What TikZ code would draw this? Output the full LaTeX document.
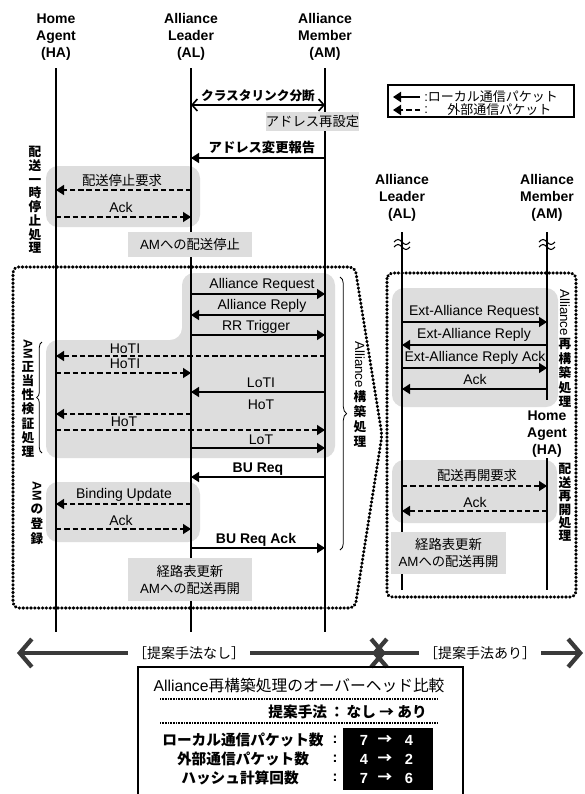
\documentclass[tikz,border=0pt]{standalone}
\usepackage{fontspec}
\setmainfont{Liberation Sans}
\newfontfamily\jp{Noto Sans CJK JP}
\usepackage{graphicx}
\usetikzlibrary{arrows.meta,decorations.pathreplacing}
\definecolor{boxgray}{RGB}{221,221,221}
\definecolor{arrowgray}{RGB}{58,58,58}
\tikzset{
  life/.style={line width=1pt},
  msg/.style={line width=1.1pt,-{Triangle[length=6pt,width=7.5pt]}},
  dmsg/.style={msg,dash pattern=on 4pt off 2.2pt},
  lbl/.style={inner sep=0pt,font=\fontsize{10.5}{12}\selectfont},
  blbl/.style={inner sep=0pt,font=\bfseries\fontsize{10.5}{12}\selectfont},
  jlbl/.style={inner sep=0pt,font=\jp\fontsize{10}{12}\selectfont},
  bjlbl/.style={inner sep=0pt,font=\jp\bfseries\fontsize{10}{12}\selectfont},
  grp/.style={fill=boxgray,rounded corners=9pt},
  note/.style={fill=boxgray,inner sep=0pt,align=center,font=\fontsize{10}{12.75}\selectfont},
  dotbox/.style={line width=2.3pt,dash pattern=on 0.4pt off 2.5pt,line cap=round,rounded corners=4pt},
  hdr/.style={align=center,font=\bfseries\fontsize{10.5}{13}\selectfont,inner sep=0pt},
  vtxt/.style={align=center,inner sep=0pt,anchor=north},
  vrot/.style={rotate=-90,anchor=west,inner sep=0pt},
  bigarrow/.style={line width=3.2pt,draw=arrowgray,{Straight Barb[length=9pt,width=21pt]}-{Straight Barb[length=9pt,width=21pt]}},
  tdot/.style={line width=1.3pt,dash pattern=on 0.6pt off 0.6pt},
}
\newcommand{\vfont}[1]{\jp\bfseries\fontsize{9.5}{#1}\selectfont\lineskiplimit=-20pt\lineskip=0pt}
\begin{document}
\begin{tikzpicture}[x=0.75pt,y=-0.75pt]
\useasboundingbox (0,0) rectangle (585,794);
\clip (0,0) rectangle (585,794);
\fill[white] (0,0) rectangle (585,794);

% lifeline anchors
\coordinate (HA) at (56,68);
\coordinate (AL) at (191,68);
\coordinate (AM) at (325,68);
\coordinate (AL2) at (402,232);
\coordinate (AM2) at (547,232);
\coordinate (HA2) at (547,458);

% headers
\node[hdr] (hHA) at (56,37) {Home\\Agent\\(HA)};
\node[hdr] (hAL) at (191,37) {Alliance\\Leader\\(AL)};
\node[hdr] (hAM) at (325,37) {Alliance\\Member\\(AM)};
\node[hdr] (hAL2) at (402,198) {Alliance\\Leader\\(AL)};
\node[hdr] (hAM2) at (547,198) {Alliance\\Member\\(AM)};
\node[hdr] (hHA2) at (547,434) {Home\\Agent\\(HA)};

% group boxes (behind lifelines)
\path[grp] (46,166) rectangle (200,227);
\path[grp] (182,273) -- (335,273) -- (335,458) -- (46,458) -- (46,340) -- (182,340) -- cycle;
\path[grp] (46,482) rectangle (200,542);
\path[grp] (392,288) rectangle (558,407);
\path[grp] (392,460) rectangle (557,523);

% lifelines
\draw[life] (HA) -- (HA |- 0,632);
\draw[life] (AL) -- (AL |- 0,632);
\draw[life] (AM) -- (AM |- 0,632);
\draw[life] (AL2) -- (AL2 |- 0,590);
\draw[life] (AM2) -- (AM2 |- 0,400);
\draw[life] (HA2) -- (HA2 |- 0,590);
% break marks
\foreach \xx in {402,547}{
  \draw[line width=0.8pt] (\xx-8,242) sin (\xx-4,239.5) cos (\xx,242) sin (\xx+4,244.5) cos (\xx+8,242);
  \draw[line width=0.8pt] (\xx-8,247) sin (\xx-4,244.5) cos (\xx,247) sin (\xx+4,249.5) cos (\xx+8,247);
}

% dotted frames
\draw[dotbox] (13,267) -- (355,267) -- (382,435) -- (355,608) -- (13,608) -- cycle;
\draw[dotbox] (387,273) rectangle (576,597);

% note boxes (cover lifelines)
\node[note,minimum width=56.25pt,minimum height=14.25pt] (reset) at (312.5,121.5) {\jp アドレス再設定};
\node[note,minimum width=93pt,minimum height=18.75pt] (stop) at (190,244.5) {AM{\jp への配送停止}};
\node[note,minimum width=93pt,minimum height=32.25pt] (resume) at (190,579.5) {{\jp 経路表更新}\\AM{\jp への配送再開}};
\node[note,minimum width=86.25pt,minimum height=31.5pt] (resume2) at (448.5,553) {{\jp 経路表更新}\\AM{\jp への配送再開}};

% legend
\draw[line width=0.8pt] (388,85) rectangle (574,117);
\coordinate (lg1a) at (420,97); \coordinate (lg1b) at (393,97);
\coordinate (lg2a) at (420,110); \coordinate (lg2b) at (393,110);
\draw[msg,line width=1.6pt] (lg1a) -- (lg1b);
\draw[dmsg,line width=1.6pt] (lg2a) -- (lg2b);
\node[anchor=west,inner sep=0pt,font=\fontsize{9.75}{11}\selectfont] (lgt1) at (424,97) {:{\jp ローカル通信パケット}};
\node[anchor=west,inner sep=0pt,font=\fontsize{9.75}{11}\selectfont] (lgt2) at (424,110) {:};
\node[anchor=west,inner sep=0pt,font=\jp\fontsize{9.75}{11}\selectfont] (lgt3) at (447,110) {外部通信パケット};

% top messages
\draw[line width=1.2pt,{Straight Barb[length=4pt,width=9pt]}-{Straight Barb[length=4pt,width=9pt]}] (AL |- 0,105) -- (AM |- 0,105);
\node[bjlbl,font=\jp\bfseries\fontsize{9.5}{11}\selectfont] (l1) at (258,96) {クラスタリンク分断};
\draw[msg] (AM |- 0,158) -- (AL |- 0,158);
\node[bjlbl] (l2) at (262,147) {アドレス変更報告};
\draw[dmsg] (AL |- 0,190) -- (HA |- 0,190);
\node[jlbl] (l3) at (122,180) {配送停止要求};
\draw[dmsg] (HA |- 0,217) -- (AL |- 0,217);
\node[lbl] (l4) at (121,207) {Ack};

% alliance construction
\draw[msg] (AL |- 0,294) -- (AM |- 0,294);
\node[lbl] (l5) at (262,285) {Alliance Request};
\draw[msg] (AM |- 0,315) -- (AL |- 0,315);
\node[lbl] (l6) at (262,306) {Alliance Reply};
\draw[msg] (AL |- 0,335) -- (AM |- 0,335);
\node[lbl] (l7) at (256,327) {RR Trigger};
\draw[dmsg] (AM |- 0,356) -- (HA |- 0,356);
\node[lbl] (l8) at (125,349) {HoTI};
\draw[dmsg] (HA |- 0,373) -- (AL |- 0,373);
\node[lbl] (l9) at (125,364) {HoTI};
\draw[msg] (AM |- 0,392) -- (AL |- 0,392);
\node[lbl] (l10) at (261,383) {LoTI};
\draw[dmsg] (AL |- 0,414) -- (HA |- 0,414);
\node[lbl] (l11) at (261,405) {HoT};
\draw[dmsg] (HA |- 0,430) -- (AM |- 0,430);
\node[lbl] (l12) at (124,422) {HoT};
\draw[msg] (AL |- 0,448) -- (AM |- 0,448);
\node[lbl] (l13) at (261,440) {LoT};
\draw[msg] (AM |- 0,477) -- (AL |- 0,477);
\node[blbl] (l14) at (258,469) {BU Req};
\draw[dmsg] (AL |- 0,504) -- (HA |- 0,504);
\node[lbl] (l15) at (124,495) {Binding Update};
\draw[dmsg] (HA |- 0,529) -- (AL |- 0,529);
\node[lbl] (l16) at (121,520) {Ack};
\draw[msg] (AL |- 0,548) -- (AM |- 0,548);
\node[blbl] (l17) at (256,540) {BU Req Ack};

% braces
\draw[line width=0.6pt,decorate,decoration={brace,amplitude=4pt}] (42,453) -- (42,342);
\draw[line width=0.6pt,decorate,decoration={brace,amplitude=5pt}] (340,277) -- (340,550);

% right side messages
\draw[msg] (AL2 |- 0,322) -- (AM2 |- 0,322);
\node[lbl] (r1) at (474,312) {Ext-Alliance Request};
\draw[msg] (AM2 |- 0,345) -- (AL2 |- 0,345);
\node[lbl] (r2) at (474,335) {Ext-Alliance Reply};
\draw[msg] (AL2 |- 0,368) -- (AM2 |- 0,368);
\node[lbl] (r3) at (475,358) {Ext-Alliance Reply Ack};
\draw[msg] (AM2 |- 0,389) -- (AL2 |- 0,389);
\node[lbl] (r4) at (475,379) {Ack};
\draw[dmsg] (AL2 |- 0,486) -- (HA2 |- 0,486);
\node[jlbl] (r5) at (477,475) {配送再開要求};
\draw[dmsg] (HA2 |- 0,511) -- (AL2 |- 0,511);
\node[lbl] (r6) at (475,502) {Ack};

% vertical texts
\node[vtxt,font=\vfont{10.3}] (v1) at (35,146) {配\\送\\一\\時\\停\\止\\処\\理};
\node[vrot,font=\bfseries\fontsize{9.5}{11}\selectfont] (v2a) at (28,339) {AM};
\node[vtxt,font=\vfont{10.6}] (v2) at ([yshift=-1.5pt]v2a.east) {正\\当\\性\\検\\証\\処\\理};
\node[vrot,font=\bfseries\fontsize{9.5}{11}\selectfont] (v3a) at (37,481) {AM};
\node[vtxt,font=\vfont{11.5}] (v3) at ([yshift=-1.5pt]v3a.east) {の\\登\\録};
\node[vrot,font=\fontsize{10}{11}\selectfont] (v4a) at (360,341) {Alliance};
\node[vtxt,font=\vfont{11.2}] (v4) at ([yshift=-1.5pt]v4a.east) {構\\築\\処\\理};
\node[vrot,font=\fontsize{10}{11}\selectfont] (v5a) at (565,289) {Alliance};
\node[vtxt,font=\vfont{10.9}] (v5) at ([yshift=-1.5pt]v5a.east) {再\\構\\築\\処\\理};
\node[vtxt,font=\vfont{10.1}] (v6) at (565,463) {配\\送\\再\\開\\処\\理};

% bottom arrows
\coordinate (b1l) at (17,653); \coordinate (b1r) at (386,653);
\coordinate (b2l) at (372,653); \coordinate (b2r) at (583,653);
\draw[bigarrow] (b1l) -- (b1r);
\draw[bigarrow] (b2l) -- (b2r);
\node[fill=white,inner xsep=4pt,inner ysep=1pt,font=\jp\fontsize{10.5}{12}\selectfont] (bl1) at (189,653) {［提案手法なし］};
\node[fill=white,inner xsep=4pt,inner ysep=1pt,font=\jp\fontsize{10.5}{12}\selectfont] (bl2) at (480,653) {［提案手法あり］};

% table
\draw[line width=0.9pt] (138,800) -- (138,667) -- (463,667) -- (463,800);
\node[inner sep=0pt,font=\fontsize{11.8}{13}\selectfont] (t0) at (299,685) {Alliance{\jp 再構築処理のオーバーヘッド比較}};
\draw[tdot] (160,699) -- (437,699);
\node[anchor=east,inner sep=0pt,font=\jp\bfseries\fontsize{11}{13}\selectfont] (t1) at (427,712) {提案手法\,：\,なし → あり};
\draw[tdot] (160,723) -- (437,723);
\fill[black] (343,728) rectangle (433,790);
\node[inner sep=0pt,font=\jp\bfseries\fontsize{11}{13}\selectfont] (t2) at (243,740) {ローカル通信パケット数};
\node[inner sep=0pt,font=\jp\bfseries\fontsize{11}{13}\selectfont] (t3) at (243,759) {外部通信パケット数};
\node[inner sep=0pt,font=\jp\bfseries\fontsize{11}{13}\selectfont] (t4) at (240,778) {ハッシュ計算回数};
\foreach \yy/\aa/\bb in {740/7/4,759/4/2,778/7/6}{
  \node[inner sep=0pt,font=\bfseries\fontsize{11}{13}\selectfont] at (335,\yy) {:};
  \node[inner sep=0pt,text=white,font=\bfseries\fontsize{11}{13}\selectfont] at (364,\yy) {\aa};
  \node[inner sep=0pt,text=white,font=\jp\bfseries\fontsize{11}{13}\selectfont] at (385,\yy) {→};
  \node[inner sep=0pt,text=white,font=\bfseries\fontsize{11}{13}\selectfont] at (409,\yy) {\bb};
}
\end{tikzpicture}
\end{document}
